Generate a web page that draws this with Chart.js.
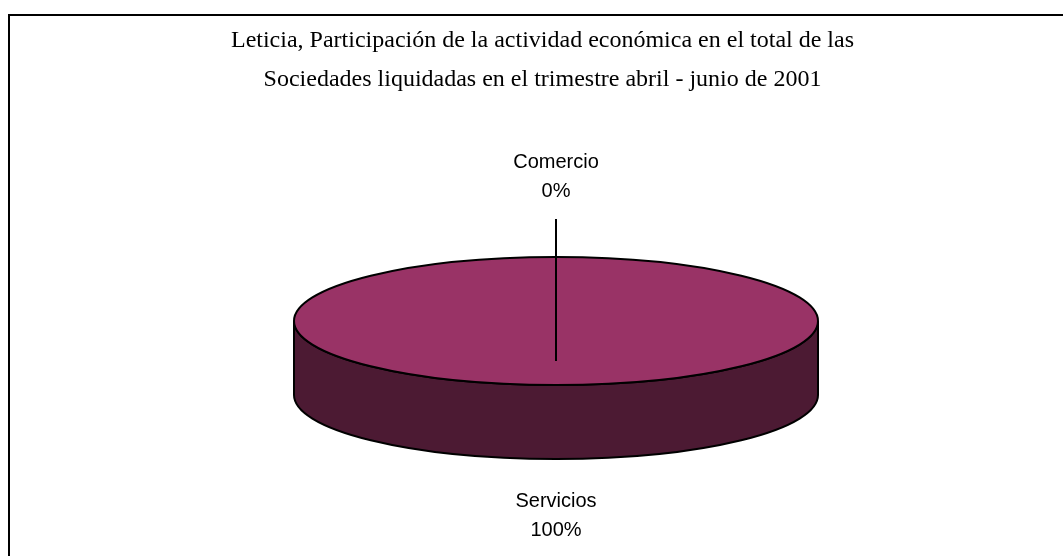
<!DOCTYPE html>
<html>
<head>
<meta charset="utf-8">
<script src="https://cdn.jsdelivr.net/npm/chart.js@4.4.1/dist/chart.umd.min.js"></script>
<style>
  html, body { margin: 0; padding: 0; background: #fff; overflow: hidden; }
  .wrap { position: relative; width: 1063px; height: 556px; }
</style>
</head>
<body>
<div class="wrap"><canvas id="pieChart"></canvas></div>
<script>
var categories = ["Comercio", "Servicios"];
var shares = [0, 100];
var titleLines = [
    "Leticia, Participación de la actividad económica en el total de las",
    "Sociedades liquidadas en el trimestre abril - junio de 2001"
];

// 3D look: where the flattened pie sits on the page
var pie3d = { cx: 556, cy: 321, rx: 262, ry: 64, depth: 74 };
var topColor = "#993366";
var sideColor = "#4C1A33";

function visibleFront(start, end) {
    // part of the slice that faces the viewer (angles 0..PI)
    var spans = [];
    for (var k = -1; k <= 1; k++) {
        var a0 = Math.max(start + k * 2 * Math.PI, 0);
        var a1 = Math.min(end + k * 2 * Math.PI, Math.PI);
        if (a1 > a0) spans.push([a0, a1]);
    }
    return spans;
}

var pie3dPlugin = {
    id: "pie3d",
    beforeDraw: function(chart) {
        var ctx = chart.ctx;
        ctx.save();
        ctx.strokeStyle = "#000";
        ctx.lineWidth = 2;
        ctx.strokeRect(9, 15, 1200, 700);
        ctx.restore();
    },
    beforeDatasetsDraw: function(chart) {
        var ctx = chart.ctx;
        var arcs = chart.getDatasetMeta(0).data;
        var p = pie3d;
        ctx.save();
        ctx.lineWidth = 2;
        ctx.strokeStyle = "#000";
        ctx.fillStyle = sideColor;
        arcs.forEach(function(arc) {
            if (arc.endAngle - arc.startAngle <= 0) return;
            visibleFront(arc.startAngle, arc.endAngle).forEach(function(s) {
                ctx.beginPath();
                ctx.ellipse(p.cx, p.cy, p.rx, p.ry, 0, s[0], s[1]);
                ctx.ellipse(p.cx, p.cy + p.depth, p.rx, p.ry, 0, s[1], s[0], true);
                ctx.closePath();
                ctx.fill();
                ctx.stroke();
            });
        });
        ctx.restore();

        // squash the library's round pie into the top ellipse
        var a = arcs[0];
        var R = a.outerRadius;
        ctx.save();
        ctx.translate(p.cx, p.cy);
        ctx.scale(p.rx / R, p.ry / R);
        ctx.translate(-a.x, -a.y);
    },
    afterDatasetsDraw: function(chart) {
        var ctx = chart.ctx;
        ctx.restore();
        var p = pie3d;
        var arcs = chart.getDatasetMeta(0).data;
        ctx.save();
        ctx.lineWidth = 2;
        ctx.strokeStyle = "#000";
        arcs.forEach(function(arc) {
            var sweep = arc.endAngle - arc.startAngle;
            if (sweep <= 0) return;
            ctx.beginPath();
            if (sweep >= 2 * Math.PI - 1e-6) {
                ctx.ellipse(p.cx, p.cy, p.rx, p.ry, 0, 0, 2 * Math.PI);
            } else {
                ctx.moveTo(p.cx, p.cy);
                ctx.ellipse(p.cx, p.cy, p.rx, p.ry, 0, arc.startAngle, arc.endAngle);
                ctx.closePath();
            }
            ctx.stroke();
        });

        // data labels
        var total = shares.reduce(function(s, v) { return s + v; }, 0);
        ctx.fillStyle = "#000";
        ctx.font = "20px 'Liberation Sans', Arial, sans-serif";
        ctx.textAlign = "center";
        ctx.textBaseline = "middle";
        arcs.forEach(function(arc, i) {
            var mid = (arc.startAngle + arc.endAngle) / 2;
            var x = p.cx + p.rx * Math.cos(mid);
            var pct = Math.round(shares[i] / total * 100) + "%";
            if (Math.sin(mid) < 0) {
                var top = p.cy - 159;
                ctx.fillText(categories[i], x, top);
                ctx.fillText(pct, x, top + 29);
                ctx.beginPath();
                ctx.moveTo(x, p.cy - 102);
                ctx.lineTo(x, p.cy + 40);
                ctx.stroke();
            } else {
                var bottom = p.cy + p.ry + p.depth + 42;
                ctx.fillText(categories[i], x, bottom);
                ctx.fillText(pct, x, bottom + 29);
            }
        });
        ctx.restore();
    }
};

document.addEventListener("DOMContentLoaded", function() {
    var ctx = document.getElementById("pieChart").getContext("2d");
    var pieChart = new Chart(ctx, {
        type: "pie",
        data: {
            labels: categories,
            datasets: [{
                data: shares,
                backgroundColor: topColor,
                borderWidth: 0
            }]
        },
        options: {
            responsive: true,
            maintainAspectRatio: false,
            animation: false,
            layout: { padding: { left: 22, right: 0, top: 0, bottom: 0 } },
            plugins: {
                legend: { display: false },
                tooltip: { enabled: false },
                title: {
                    display: true,
                    text: titleLines,
                    color: "#000",
                    font: { family: "'Liberation Serif', 'Times New Roman', serif", size: 24, weight: "normal", lineHeight: 1.6 },
                    padding: { top: 22, bottom: 10 }
                }
            }
        },
        plugins: [pie3dPlugin]
    });
});
</script>
</body>
</html>
